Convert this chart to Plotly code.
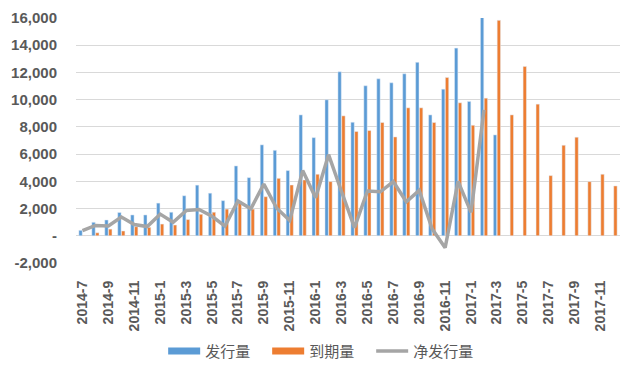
import plotly.graph_objects as go

months = [
    "2014-7", "2014-8", "2014-9", "2014-10", "2014-11", "2014-12",
    "2015-1", "2015-2", "2015-3", "2015-4", "2015-5", "2015-6",
    "2015-7", "2015-8", "2015-9", "2015-10", "2015-11", "2015-12",
    "2016-1", "2016-2", "2016-3", "2016-4", "2016-5", "2016-6",
    "2016-7", "2016-8", "2016-9", "2016-10", "2016-11", "2016-12",
    "2017-1", "2017-2", "2017-3", "2017-4", "2017-5", "2017-6",
    "2017-7", "2017-8", "2017-9", "2017-10", "2017-11", "2017-12",
]

issuance = [
    400, 990, 1160, 1710, 1530, 1530,
    2400, 1730, 2940, 3720, 3130, 2580,
    5130, 4270, 6680, 6280, 4790, 8880,
    7210, 9990, 12050, 8340, 11020, 11530,
    11240, 11900, 12740, 8880, 10770, 13790,
    9870, 19360, 7410, None, None, None,
    None, None, None, None, None, None,
]

maturity = [
    30, 220, 490, 350, 670, 620,
    860, 790, 1190, 1580, 1730, 1960,
    2550, 1960, 2870, 4220, 3730, 4100,
    4520, 3980, 8810, 7660, 7730, 8320,
    7260, 9400, 9400, 8320, 11630, 9770,
    8120, 10110, 15830, 8880, 12440, 9670,
    4420, 6650, 7240, 3980, 4520, 3660,
]

net_issuance = [
    370, 760, 720, 1380, 830, 680,
    1590, 990, 1850, 1930, 1430, 710,
    2550, 1980, 3800, 2020, 1120, 4790,
    2800, 5960, 3250, 600, 3290, 3230,
    3980, 2500, 3340, 500, -880, 4000,
    1720, 9250, None, None, None, None,
    None, None, None, None, None, None,
]

y_tickvals = [-2000, 0, 2000, 4000, 6000, 8000, 10000, 12000, 14000, 16000]
y_ticktext = ["-2,000", "-", "2,000", "4,000", "6,000", "8,000",
              "10,000", "12,000", "14,000", "16,000"]

BLUE = "#5B9BD5"
ORANGE = "#ED7D31"
GRAY = "#A5A5A5"
TXT = "#595959"

fig = go.Figure()
fig.add_trace(go.Bar(x=months, y=issuance, name="发行量", marker_color=BLUE,
                     showlegend=False))
fig.add_trace(go.Bar(x=months, y=maturity, name="到期量", marker_color=ORANGE,
                     showlegend=False))
fig.add_trace(go.Scatter(x=months, y=net_issuance, name="净发行量", mode="lines",
                         line=dict(color=GRAY, width=3.5), showlegend=False))

# legend-only entries (wide swatches like the original)
fig.add_trace(go.Scatter(x=[None], y=[None], name="发行量", mode="lines",
                         line=dict(color=BLUE, width=7)))
fig.add_trace(go.Scatter(x=[None], y=[None], name="到期量", mode="lines",
                         line=dict(color=ORANGE, width=7)))
fig.add_trace(go.Scatter(x=[None], y=[None], name="净发行量", mode="lines",
                         line=dict(color=GRAY, width=3.5)))

# page body has an 8px default margin, so the figure is sized/offset for it
fig.update_layout(
    width=632, height=369,
    margin=dict(l=68, r=20, t=10, b=114, autoexpand=False),
    paper_bgcolor="white", plot_bgcolor="white",
    barmode="group", bargap=0.41, bargroupgap=0.12,
    font=dict(family="Liberation Sans, Arial, sans-serif", color=TXT),
    legend=dict(orientation="h", x=0.447, xanchor="center", y=-0.36,
                yanchor="middle", yref="paper",
                font=dict(family="Noto Sans CJK SC", size=15, color=TXT),
                itemwidth=32, entrywidth=57, bgcolor="rgba(0,0,0,0)"),
    showlegend=True,
)

fig.update_xaxes(
    type="category", categoryorder="array", categoryarray=months,
    tickvals=months[::2], ticktext=months[::2],
    tickangle=-90, tickfont=dict(size=14, weight="bold", color=TXT),
    showgrid=False, showline=False, ticks="", zeroline=False,
    ticklabelstandoff=14, automargin=False,
)
fig.update_yaxes(
    range=[-2000, 16000], tickvals=y_tickvals, ticktext=y_ticktext,
    tickfont=dict(size=15, weight="bold", color=TXT),
    showgrid=True, gridcolor="#D9D9D9", gridwidth=1,
    zeroline=False, showline=False, ticks="", ticklabelstandoff=18,
    automargin=False,
)

fig.write_html("out.html")
